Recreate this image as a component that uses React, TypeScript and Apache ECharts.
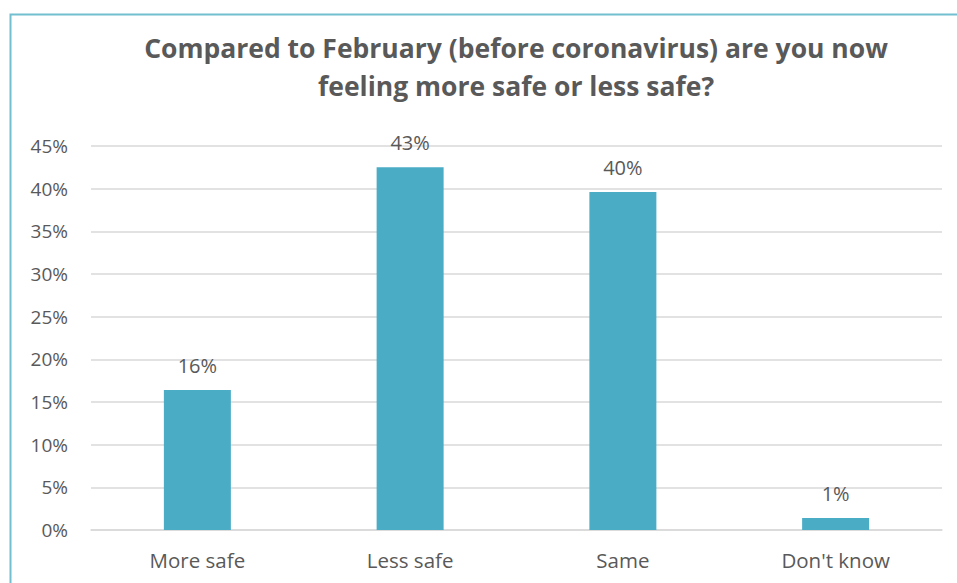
import React, { useEffect, useRef } from "react";
import * as echarts from "echarts";

const categories = ["More safe", "Less safe", "Same", "Don't know"];
const values = [0.164, 0.425, 0.396, 0.014];
const titleLines = ["Compared to February (before coronavirus) are you now", "feeling more safe or less safe?"];

export default function App() {
  const ref = useRef<HTMLDivElement>(null);
  useEffect(() => {
    const chart = echarts.init(ref.current!, null, { renderer: "svg" });
    chart.setOption({
      animation: false,
      backgroundColor: "#ffffff",
      textStyle: { fontFamily: "Open Sans" },
      title: {
        text: titleLines.join("\n"),
        left: 511,
        top: 24,
        padding: 5,
        textAlign: "center",
        textStyle: { fontFamily: "Open Sans", fontSize: 26.5, fontWeight: "bold", color: "#595959", lineHeight: 38 },
      },
      graphic: [
        {
          type: "rect",
          shape: { x: 10.5, y: 14.5, width: 1100, height: 700 },
          style: { fill: "none", stroke: "#72bfd0", lineWidth: 2 },
          silent: true,
        },
      ],
      grid: { left: 91, right: 15, top: 146, bottom: 53, containLabel: false },
      xAxis: {
        type: "category",
        data: categories,
        axisLine: { show: true, lineStyle: { color: "#d9d9d9", width: 1.5 } },
        axisTick: { show: false },
        axisLabel: { color: "#595959", fontSize: 20.5, margin: 19, fontFamily: "Open Sans" },
      },
      yAxis: {
        type: "value",
        min: 0,
        max: 0.45,
        interval: 0.05,
        axisLine: { show: false },
        axisTick: { show: false },
        splitLine: { lineStyle: { color: "#d9d9d9", width: 1.5 } },
        axisLabel: {
          color: "#595959",
          fontSize: 19,
          margin: 23,
          fontFamily: "Open Sans",
          formatter: (v: number) => Math.round(v * 100) + "%",
        },
      },
      series: [
        {
          type: "bar",
          data: values,
          barWidth: 67,
          itemStyle: { color: "#4bacc6" },
          label: {
            show: true,
            position: "top",
            distance: 15,
            color: "#595959",
            fontSize: 20,
            fontFamily: "Open Sans",
            formatter: (p: any) => Math.round(p.value * 100) + "%",
          },
        },
      ],
    });
    return () => chart.dispose();
  }, []);
  return <div ref={ref} style={{ position: "fixed", left: 0, top: 0, width: 957, height: 583 }} />;
}
